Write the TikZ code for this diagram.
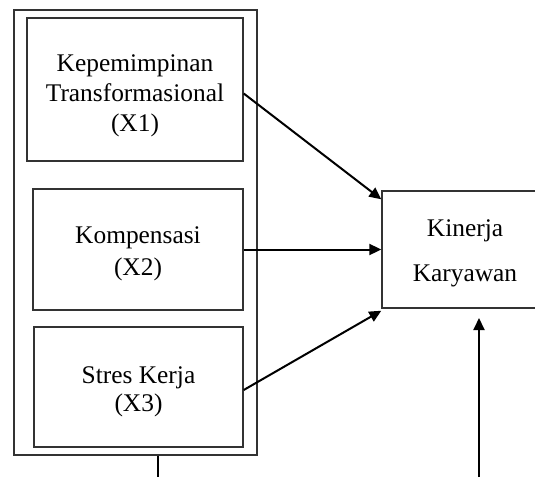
\documentclass[tikz,border=0pt]{standalone}
\usepackage{fontspec}
\setmainfont{Liberation Serif}
\usetikzlibrary{arrows.meta}

\begin{document}
\begin{tikzpicture}[x=0.5pt,y=-0.5pt]
\tikzset{box/.style={draw=black!80,line width=0.7pt,inner sep=0pt},
  txt/.style={align=center,inner sep=0pt,font=\fontsize{12.7}{15}\selectfont},
  link/.style={black,line width=1pt,-{Triangle[length=6pt,width=5.5pt]}}}
\useasboundingbox (0,0) rectangle (535,477);
\node [box,minimum width=121.5pt,minimum height=222.5pt] (grp) at (135.5,232.5) {};
\node [box,minimum width=108pt,minimum height=71.5pt] (b1) at (135,89.5) {};
\node [box,minimum width=105pt,minimum height=60.5pt] (b2) at (138,249.5) {};
\node [box,minimum width=104.5pt,minimum height=60pt] (b3) at (138.5,387) {};
\node [box,minimum width=83pt,minimum height=58.5pt] (kk) at (465,249.5) {};
\node [txt] (t1) at ([yshift=-3pt]b1) {Kepemimpinan\\Transformasional\\(X1)};
\node [txt] (t2) at ([yshift=-2pt]b2) {Kompensasi\\[1pt](X2)};
\node [txt] (t3) at ([yshift=-2.5pt]b3) {Stres Kerja\\[-1pt](X3)};
\node [txt] (t4) at ([yshift=-2pt]kk) {Kinerja\\[7.5pt]Karyawan};
\coordinate (e1) at (158,477);
\coordinate (e2) at (479,477);
\coordinate (e2tip) at (479,318);
\draw [link] ([yshift=-2pt]b1.east) -- ([yshift=-4.5pt]kk.north west);
\draw [link] (b2.east) -- (kk.west);
\draw [link] ([yshift=-1.5pt]b3.east) -- ([yshift=-1pt]kk.south west);
\draw [black,line width=1pt] (grp.south -| e1) -- (e1);
\draw [link] (e2) -- (e2tip);
\end{tikzpicture}
\end{document}
